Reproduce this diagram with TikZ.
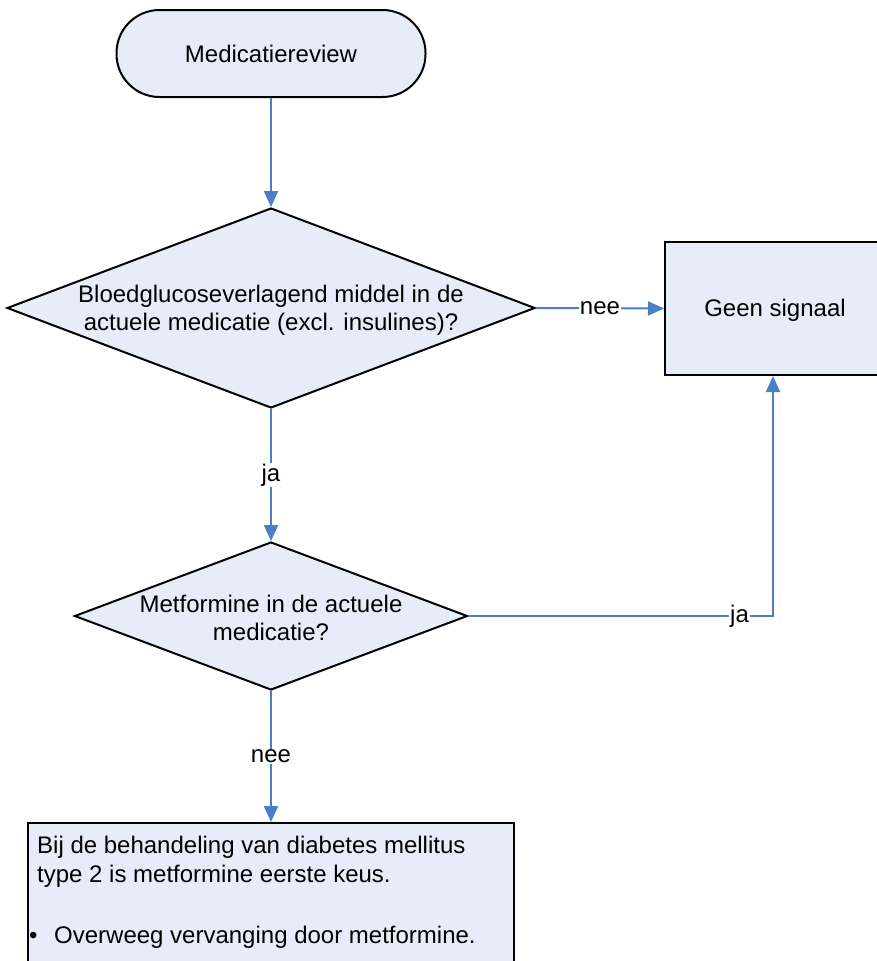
\documentclass[tikz,border=0pt]{standalone}
\usepackage{fontspec}
\setmainfont{Liberation Sans}
\usetikzlibrary{shapes.geometric,arrows.meta}
\definecolor{fillc}{HTML}{E7EDF8}
\definecolor{linec}{HTML}{4A7EC6}
\begin{document}
\begin{tikzpicture}[x=1pt,y=-1pt,
  font=\fontsize{24}{28}\selectfont,
  shapebox/.style={draw=black,line width=2pt,fill=fillc},
  conn/.style={draw=linec,line width=2pt,-{Triangle[length=16pt,width=14pt]}},
  lbl/.style={fill=white,inner sep=1pt},
  txt/.style={anchor=base west,inner sep=0pt}]
\useasboundingbox (0,0) rectangle (877,961);
\node[shapebox,rounded corners=43pt,minimum width=309pt,minimum height=87pt] (start) at (271,53.5) {Medicatiereview};
\node[shapebox,diamond,minimum width=528pt,minimum height=200pt,inner sep=0pt,aspect=2.64] (d1) at (271,308) {};
\node[align=center,inner sep=0pt] (t1) at (271,310) {Bloedglucoseverlagend middel in de\\actuele medicatie (excl. insulines)?};
\node[shapebox,minimum width=216pt,minimum height=133pt,inner sep=0pt] (geen) at (773,308.5) {};
\node (tg) at (775,310) {Geen signaal};
\node[shapebox,diamond,minimum width=393pt,minimum height=148pt,inner sep=0pt,aspect=2.66] (d2) at (271,616) {};
\node[align=center,inner sep=0pt] (t2) at (271,618) {Metformine in de actuele\\medicatie?};
\node[shapebox,minimum width=486pt,minimum height=160pt,inner sep=0pt] (adv) at (271,903) {};
\node[txt] (a1) at (37,853) {Bij de behandeling van diabetes mellitus};
\node[txt] (a2) at (37,882) {type 2 is metformine eerste keus.};
\node[txt] (a3) at (29,943) {\textbullet};
\node[txt] (a4) at (54,943) {Overweeg vervanging door metformine.};
\draw[conn] (start.south) -- (d1.north);
\draw[conn] (d1.east) -- node[lbl] {nee} (geen.west);
\draw[conn] (d1.south) -- node[lbl] {ja} (d2.north);
\draw[conn] (d2.east) -- node[lbl,pos=0.89] {ja} (geen.south |- d2.east) -- (geen.south);
\draw[conn] (d2.south) -- node[lbl] {nee} (adv.north);
\end{tikzpicture}
\end{document}
